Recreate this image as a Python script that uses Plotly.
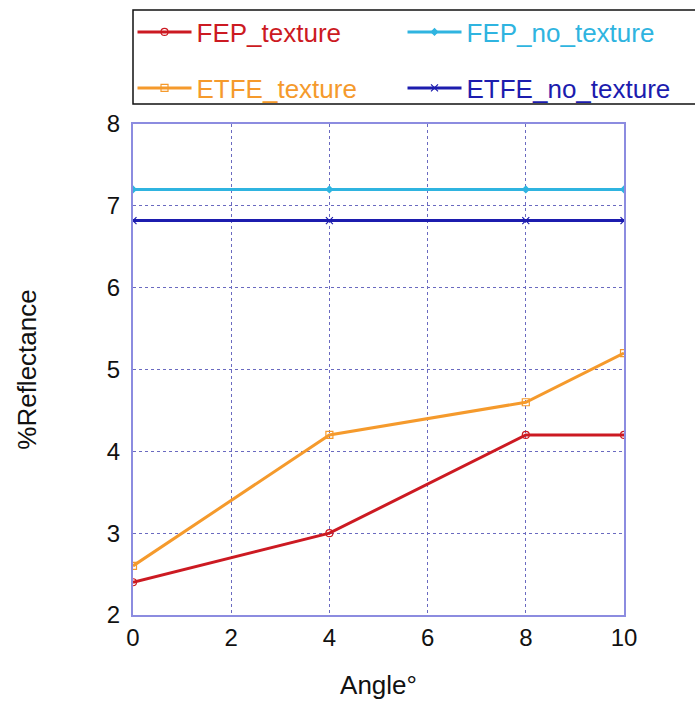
import plotly.graph_objects as go

angles = [0, 4, 8, 10]
fep_texture = [2.4, 3.0, 4.2, 4.2]
fep_no_texture = [7.2, 7.2, 7.2, 7.2]
etfe_texture = [2.6, 4.2, 4.6, 5.2]
etfe_no_texture = [6.82, 6.82, 6.82, 6.82]

series = [
    ("FEP_texture", fep_texture, "#cc1a22", "circle-open", 7, "legend"),
    ("FEP_no_texture", fep_no_texture, "#2fb4e0", "diamond", 5, "legend"),
    ("ETFE_texture", etfe_texture, "#f59a2c", "square-open", 7, "legend2"),
    ("ETFE_no_texture", etfe_no_texture, "#1c1cae", "x-thin-open", 7, "legend2"),
]

fig = go.Figure()
for name, ys, color, sym, size, leg in series:
    fig.add_trace(go.Scatter(
        x=angles, y=ys, mode="lines+markers",
        name=f"<span style='color:{color}'>{name}</span>",
        legend=leg,
        line=dict(color=color, width=3),
        marker=dict(symbol=sym, size=size, color=color, line=dict(color=color, width=1.2)),
    ))

axis_common = dict(
    showline=True, linecolor="#8c8ce0", linewidth=2, mirror=True,
    showgrid=True, gridcolor="#6a6ac0", griddash="dot", gridwidth=1,
    zeroline=False, ticks="", tickfont=dict(size=24, color="#111111"),
)

H = 491.0  # plot-area height in px
def py(pix):
    return 1 + (124 - pix) / H

leg_common = dict(
    orientation="h", x=-0.001, xanchor="left", yanchor="middle",
    entrywidth=201, entrywidthmode="pixels",
    font=dict(size=26), borderwidth=0, bgcolor="rgba(0,0,0,0)",
    itemwidth=54,
)

fig.update_layout(
    width=695, height=702,
    margin=dict(l=133, r=71, t=124, b=87, autoexpand=False),
    plot_bgcolor="white", paper_bgcolor="white",
    font=dict(family="Liberation Sans, Arial, sans-serif", color="#111111"),
    xaxis=dict(range=[0, 10], dtick=2,
               title=dict(text="Angle°", font=dict(size=26), standoff=26), **axis_common),
    yaxis=dict(range=[2, 8], dtick=1, ticklabelstandoff=6,
               title=dict(text="%Reflectance", font=dict(size=26), standoff=63), **axis_common),
    legend=dict(y=py(32), **leg_common),
    legend2=dict(y=py(88), **leg_common),
    shapes=[dict(type="rect", xref="paper", yref="paper",
                 x0=0, x1=(710 - 133) / H, y0=py(104), y1=py(10),
                 line=dict(color="#111111", width=1.5), fillcolor="rgba(0,0,0,0)", layer="below")],
    showlegend=True,
)

fig.write_html("out.html")
